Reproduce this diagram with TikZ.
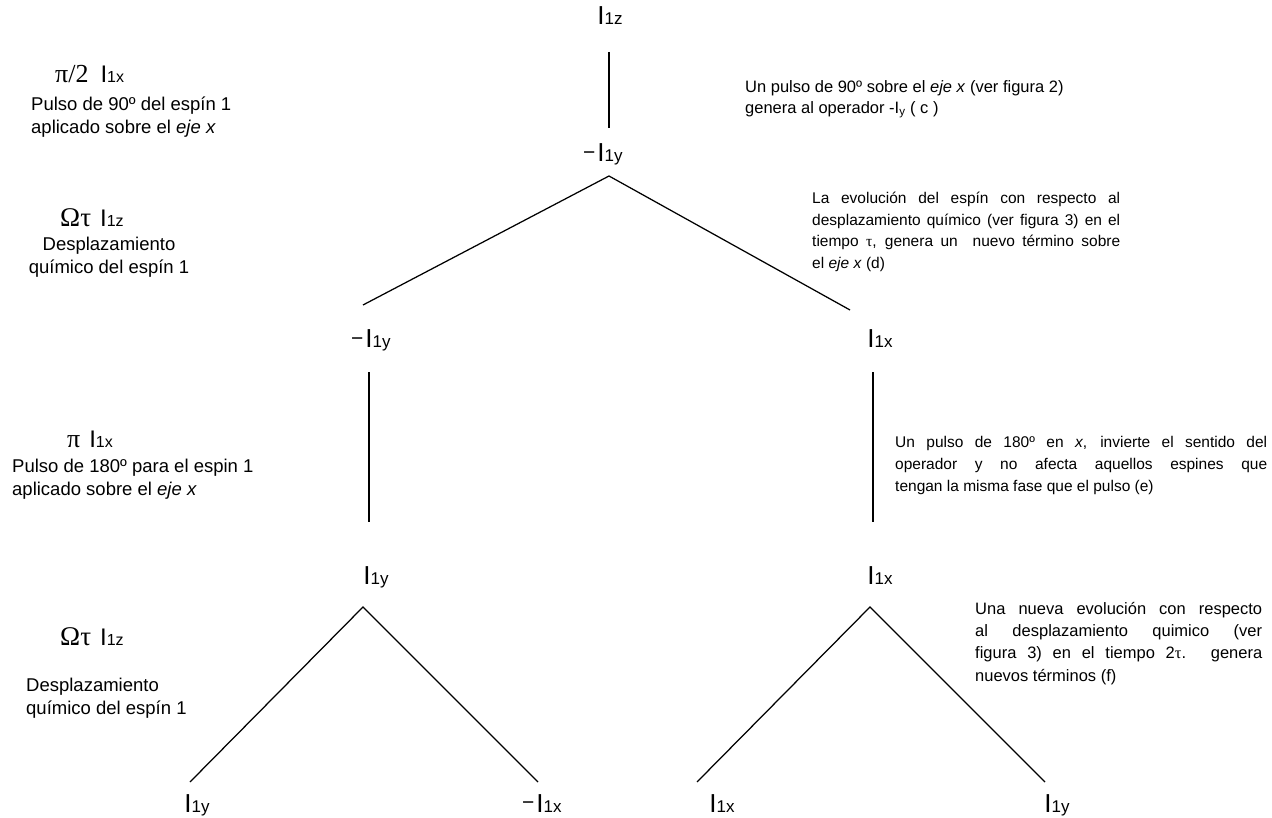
\documentclass[tikz,border=0pt]{standalone}
\usepackage{fontspec}
\setmainfont{Liberation Sans}
\newfontfamily\grk{Liberation Serif}
\newcommand\fsz[2]{\fontsize{#1}{#2}\selectfont}
% operator: tall I with its index set on the same baseline
\newcommand\opI[1]{{\fsz{26}{26}I}\rlap{\fsz{17}{17}#1}}
\newcommand\mns{\llap{\raisebox{2.5pt}{\fsz{21}{21}−}\kern2pt}}
% operator used in the side labels
\newcommand\smI[1]{{\fsz{24}{24}I}{\fsz{16}{16}#1}}
\newcommand\jline[2]{\makebox[#1][s]{#2}}
\begin{document}
\begin{tikzpicture}[x=1pt,y=-1pt,
  op/.style={anchor=base,inner sep=0pt},
  lbl/.style={anchor=base west,inner sep=0pt},
  side/.style={anchor=north west,inner sep=0pt,align=left,font=\fsz{18.5}{23}},
  note/.style={anchor=north west,inner sep=0pt,align=left},
  conn/.style={line width=1.25pt,line join=miter}]
\useasboundingbox (0,0) rectangle (1272,818);

% ---- operator tree ----
\node[op] (n0) at (601,25)  {\opI{1z}};
\node[op] (n1) at (601,162) {\mns\opI{1y}};
\node[op] (n2) at (369,348) {\mns\opI{1y}};
\node[op] (n3) at (871,348) {\opI{1x}};
\node[op] (n4) at (367,584) {\opI{1y}};
\node[op] (n5) at (871,584) {\opI{1x}};
\node[op] (n6) at (188,812) {\opI{1y}};
\node[op] (n7) at (540,812) {\mns\opI{1x}};
\node[op] (n8) at (713,812) {\opI{1x}};
\node[op] (n9) at (1048,812) {\opI{1y}};

\draw[conn] ([shift={(8,27)}]n0.base) -- ([shift={(8,-34)}]n1.base);
\draw[conn] ([shift={(-6,-43)}]n2.base) -- ([shift={(8,14)}]n1.base) -- ([shift={(-21,-38)}]n3.base);
\draw[conn] ([shift={(0,24)}]n2.base) -- ([shift={(2,-62)}]n4.base);
\draw[conn] ([shift={(2,24)}]n3.base) -- ([shift={(2,-62)}]n5.base);
\draw[conn] ([shift={(2,-30)}]n6.base) -- ([shift={(-4,23)}]n4.base) -- ([shift={(-2,-30)}]n7.base);
\draw[conn] ([shift={(-16,-30)}]n8.base) -- ([shift={(-1,23)}]n5.base) -- ([shift={(-3,-30)}]n9.base);

% ---- steps on the left ----
\node[lbl] (s1) at (55,83) {{\grk\fsz{26}{26}π/2}\hspace{12pt}\smI{1x}};
\node[side] (d1) at (31,96.5) {Pulso de 90º del espín 1\\aplicado sobre el \textit{eje x}};
\node[lbl] (s2) at (60,227) {{\grk\fsz{27}{27}Ωτ}\hspace{9pt}\smI{1z}};
\node[side,anchor=north,align=center] (d2) at (109,236.5) {Desplazamiento\\químico del espín 1};
\node[lbl] (s3) at (67,447) {{\grk\fsz{26}{26}π}\hspace{9pt}\smI{1x}};
\node[side] (d3) at (12,458.5) {Pulso de 180º para el espin 1\\aplicado sobre el \textit{eje x}};
\node[lbl] (s4) at (60,645) {{\grk\fsz{27}{27}Ωτ}\hspace{9pt}\smI{1z}};
\node[side] (d4) at (26,677.5) {Desplazamiento\\químico del espín 1};

% ---- comments on the right ----
\node[note,font=\fsz{16.5}{21}] (c) at (745,80)
  {Un pulso de 90º sobre el \textit{eje x} (ver figura 2)\\genera al operador -I\textsubscript{y} ( c )};
\node[note,font=\fsz{15.5}{21.7}] (d) at (812,191.7)
  {\jline{308pt}{La evolución del espín con respecto al}\\
   \jline{308pt}{desplazamiento químico (ver figura 3) en el}\\
   \jline{308pt}{tiempo {\grk τ}, genera un\ \ nuevo término sobre}\\
   el \textit{eje x} (d)};
\node[note,font=\fsz{15.5}{22}] (e) at (895,436)
  {\jline{372pt}{Un pulso de 180º en \textit{x}, invierte el sentido del}\\
   \jline{372pt}{operador y no afecta aquellos espines que}\\
   tengan la misma fase que el pulso (e)};
\node[note,font=\fsz{16.5}{22.3}] (f) at (975,602)
  {\jline{287pt}{Una nueva evolución con respecto}\\
   \jline{287pt}{al desplazamiento quimico (ver}\\
   \jline{287pt}{figura 3) en el tiempo 2{\grk τ}. genera}\\
   nuevos términos (f)};
\end{tikzpicture}
\end{document}
